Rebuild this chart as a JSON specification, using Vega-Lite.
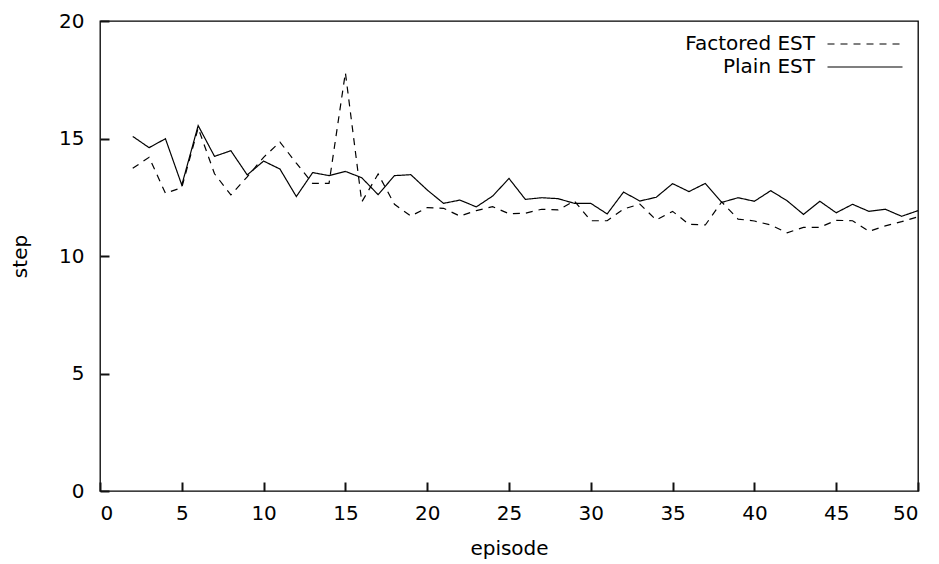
{
  "$schema": "https://vega.github.io/schema/vega-lite/v6.json",
  "width": 818,
  "height": 470,
  "autosize": "none",
  "padding": {"left": 100, "top": 21, "right": 21, "bottom": 73},
  "background": "white",
  "config": {
    "font": "DejaVu Sans",
    "view": {"stroke": "black", "strokeWidth": 1.3},
    "axis": {"grid": false, "labelFontSize": 20, "titleFontSize": 20, "titleFontWeight": "normal", "labelColor": "black", "titleColor": "black"},
    "legend": {"labelFontSize": 20, "labelColor": "black"}
  },
  "data": {
    "values": [
      {"episode": 2, "step": 13.73, "method": "Factored EST"},
      {"episode": 3, "step": 14.2, "method": "Factored EST"},
      {"episode": 4, "step": 12.67, "method": "Factored EST"},
      {"episode": 5, "step": 12.91, "method": "Factored EST"},
      {"episode": 6, "step": 15.45, "method": "Factored EST"},
      {"episode": 7, "step": 13.5, "method": "Factored EST"},
      {"episode": 8, "step": 12.6, "method": "Factored EST"},
      {"episode": 9, "step": 13.37, "method": "Factored EST"},
      {"episode": 10, "step": 14.2, "method": "Factored EST"},
      {"episode": 11, "step": 14.85, "method": "Factored EST"},
      {"episode": 12, "step": 13.95, "method": "Factored EST"},
      {"episode": 13, "step": 13.09, "method": "Factored EST"},
      {"episode": 14, "step": 13.09, "method": "Factored EST"},
      {"episode": 15, "step": 17.8, "method": "Factored EST"},
      {"episode": 16, "step": 12.3, "method": "Factored EST"},
      {"episode": 17, "step": 13.49, "method": "Factored EST"},
      {"episode": 18, "step": 12.2, "method": "Factored EST"},
      {"episode": 19, "step": 11.7, "method": "Factored EST"},
      {"episode": 20, "step": 12.06, "method": "Factored EST"},
      {"episode": 21, "step": 12.03, "method": "Factored EST"},
      {"episode": 22, "step": 11.7, "method": "Factored EST"},
      {"episode": 23, "step": 11.93, "method": "Factored EST"},
      {"episode": 24, "step": 12.1, "method": "Factored EST"},
      {"episode": 25, "step": 11.8, "method": "Factored EST"},
      {"episode": 26, "step": 11.82, "method": "Factored EST"},
      {"episode": 27, "step": 11.99, "method": "Factored EST"},
      {"episode": 28, "step": 11.96, "method": "Factored EST"},
      {"episode": 29, "step": 12.34, "method": "Factored EST"},
      {"episode": 30, "step": 11.5, "method": "Factored EST"},
      {"episode": 31, "step": 11.5, "method": "Factored EST"},
      {"episode": 32, "step": 12.0, "method": "Factored EST"},
      {"episode": 33, "step": 12.21, "method": "Factored EST"},
      {"episode": 34, "step": 11.53, "method": "Factored EST"},
      {"episode": 35, "step": 11.9, "method": "Factored EST"},
      {"episode": 36, "step": 11.35, "method": "Factored EST"},
      {"episode": 37, "step": 11.32, "method": "Factored EST"},
      {"episode": 38, "step": 12.3, "method": "Factored EST"},
      {"episode": 39, "step": 11.57, "method": "Factored EST"},
      {"episode": 40, "step": 11.49, "method": "Factored EST"},
      {"episode": 41, "step": 11.32, "method": "Factored EST"},
      {"episode": 42, "step": 10.99, "method": "Factored EST"},
      {"episode": 43, "step": 11.22, "method": "Factored EST"},
      {"episode": 44, "step": 11.22, "method": "Factored EST"},
      {"episode": 45, "step": 11.52, "method": "Factored EST"},
      {"episode": 46, "step": 11.5, "method": "Factored EST"},
      {"episode": 47, "step": 11.05, "method": "Factored EST"},
      {"episode": 48, "step": 11.28, "method": "Factored EST"},
      {"episode": 49, "step": 11.46, "method": "Factored EST"},
      {"episode": 50, "step": 11.67, "method": "Factored EST"},
      {"episode": 2, "step": 15.09, "method": "Plain EST"},
      {"episode": 3, "step": 14.61, "method": "Plain EST"},
      {"episode": 4, "step": 14.99, "method": "Plain EST"},
      {"episode": 5, "step": 13.02, "method": "Plain EST"},
      {"episode": 6, "step": 15.55, "method": "Plain EST"},
      {"episode": 7, "step": 14.24, "method": "Plain EST"},
      {"episode": 8, "step": 14.48, "method": "Plain EST"},
      {"episode": 9, "step": 13.45, "method": "Plain EST"},
      {"episode": 10, "step": 14.04, "method": "Plain EST"},
      {"episode": 11, "step": 13.7, "method": "Plain EST"},
      {"episode": 12, "step": 12.53, "method": "Plain EST"},
      {"episode": 13, "step": 13.55, "method": "Plain EST"},
      {"episode": 14, "step": 13.42, "method": "Plain EST"},
      {"episode": 15, "step": 13.6, "method": "Plain EST"},
      {"episode": 16, "step": 13.33, "method": "Plain EST"},
      {"episode": 17, "step": 12.61, "method": "Plain EST"},
      {"episode": 18, "step": 13.42, "method": "Plain EST"},
      {"episode": 19, "step": 13.46, "method": "Plain EST"},
      {"episode": 20, "step": 12.81, "method": "Plain EST"},
      {"episode": 21, "step": 12.24, "method": "Plain EST"},
      {"episode": 22, "step": 12.38, "method": "Plain EST"},
      {"episode": 23, "step": 12.09, "method": "Plain EST"},
      {"episode": 24, "step": 12.55, "method": "Plain EST"},
      {"episode": 25, "step": 13.3, "method": "Plain EST"},
      {"episode": 26, "step": 12.41, "method": "Plain EST"},
      {"episode": 27, "step": 12.48, "method": "Plain EST"},
      {"episode": 28, "step": 12.44, "method": "Plain EST"},
      {"episode": 29, "step": 12.24, "method": "Plain EST"},
      {"episode": 30, "step": 12.24, "method": "Plain EST"},
      {"episode": 31, "step": 11.79, "method": "Plain EST"},
      {"episode": 32, "step": 12.72, "method": "Plain EST"},
      {"episode": 33, "step": 12.34, "method": "Plain EST"},
      {"episode": 34, "step": 12.5, "method": "Plain EST"},
      {"episode": 35, "step": 13.08, "method": "Plain EST"},
      {"episode": 36, "step": 12.74, "method": "Plain EST"},
      {"episode": 37, "step": 13.09, "method": "Plain EST"},
      {"episode": 38, "step": 12.28, "method": "Plain EST"},
      {"episode": 39, "step": 12.48, "method": "Plain EST"},
      {"episode": 40, "step": 12.33, "method": "Plain EST"},
      {"episode": 41, "step": 12.78, "method": "Plain EST"},
      {"episode": 42, "step": 12.35, "method": "Plain EST"},
      {"episode": 43, "step": 11.77, "method": "Plain EST"},
      {"episode": 44, "step": 12.33, "method": "Plain EST"},
      {"episode": 45, "step": 11.84, "method": "Plain EST"},
      {"episode": 46, "step": 12.2, "method": "Plain EST"},
      {"episode": 47, "step": 11.9, "method": "Plain EST"},
      {"episode": 48, "step": 11.99, "method": "Plain EST"},
      {"episode": 49, "step": 11.69, "method": "Plain EST"},
      {"episode": 50, "step": 11.93, "method": "Plain EST"}
    ]
  },
  "mark": {"type": "line", "color": "black", "strokeWidth": 1.2},
  "encoding": {
    "x": {
      "field": "episode", "type": "quantitative",
      "scale": {"domain": [0, 50]},
      "axis": {"title": "episode", "tickCount": 10, "domain": false,
               "ticks": true, "tickSize": -9, "tickColor": "#111111", "tickWidth": 2,
               "labelPadding": 21, "titlePadding": 15}
    },
    "y": {
      "field": "step", "type": "quantitative",
      "scale": {"domain": [0, 20]},
      "axis": {"title": "step", "tickCount": 4, "domain": false,
               "ticks": true, "tickSize": -9, "tickColor": "#111111", "tickWidth": 2,
               "labelPadding": 25, "titlePadding": 28}
    },
    "strokeDash": {
      "field": "method", "type": "nominal",
      "scale": {"domain": ["Factored EST", "Plain EST"], "range": [[7, 6], [1, 0]]},
      "legend": {
        "title": null,
        "orient": "none",
        "legendX": 755,
        "legendY": 13,
        "symbolType": "M-5,0H5",
        "symbolSize": 225,
        "symbolStrokeWidth": 1.2,
        "symbolStrokeColor": "black",
        "symbolFillColor": "transparent",
        "labelAlign": "right",
        "labelOffset": -60,
        "rowPadding": 3
      }
    }
  }
}
